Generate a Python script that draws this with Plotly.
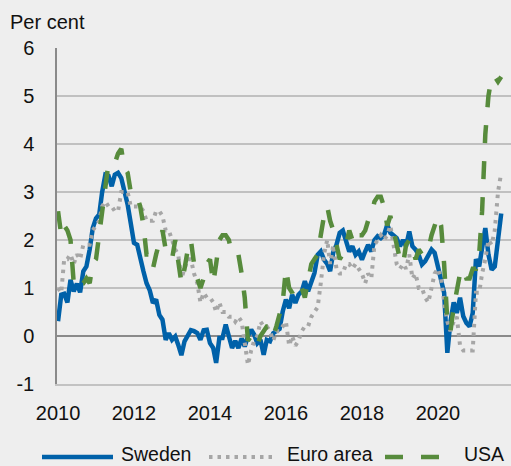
import pandas as pd
import plotly.graph_objects as go

# Monthly data, Jan 2010 - Sep 2021 (annual percentage change)
months = pd.date_range("2010-01-01", "2021-09-01", freq="MS")

sweden = [
    0.31, 0.86, 0.88, 0.70, 1.17, 0.93, 1.09, 0.91, 1.35, 1.45, 1.80, 2.25,
    2.45, 2.53, 3.00, 3.36, 3.34, 3.12, 3.36, 3.40, 3.29, 3.05, 2.74, 2.35,
    1.94, 1.90, 1.59, 1.35, 1.10, 0.95, 0.69, 0.76, 0.44, 0.34, -0.08, 0.06,
    -0.08, -0.01, -0.18, -0.40, -0.11, -0.01, 0.12, 0.10, 0.06, -0.08, 0.12, 0.13,
    -0.15, -0.25, -0.56, -0.04, -0.04, 0.24, -0.01, -0.25, -0.10, -0.25, -0.05, -0.22,
    0.00, 0.13, 0.03, -0.15, -0.08, -0.39, -0.08, -0.11, 0.06, 0.10, 0.15, 0.51,
    0.76, 0.58, 0.86, 0.69, 0.86, 0.93, 1.14, 0.93, 1.14, 1.31, 1.69, 1.76,
    1.59, 1.50, 1.35, 1.75, 1.90, 2.15, 2.20, 2.00, 1.76, 1.87, 1.69, 1.76,
    1.59, 1.76, 1.90, 1.76, 2.00, 2.08, 2.04, 2.10, 2.32, 2.15, 2.08, 2.04,
    1.87, 2.00, 1.87, 2.18, 1.87, 1.80, 1.69, 1.49, 1.56, 1.69, 1.80, 1.73,
    1.45, 1.24, 0.90, -0.35, 0.30, 0.70, 0.48, 0.80, 0.41, 0.27, 0.20, 0.48,
    1.60, 1.45, 1.85, 2.25, 1.70, 1.38, 1.45, 2.05, 2.55,
]

euro_area = [
    1.0, 0.9, 1.6, 1.6, 1.7, 1.5, 1.7, 1.6, 1.9, 1.9, 1.9, 2.2,
    2.3, 2.4, 2.7, 2.8, 2.7, 2.7, 2.6, 2.6, 3.0, 3.0, 3.0, 2.7,
    2.7, 2.7, 2.7, 2.6, 2.4, 2.4, 2.4, 2.6, 2.6, 2.5, 2.2, 2.2,
    2.0, 1.8, 1.7, 1.2, 1.4, 1.6, 1.6, 1.3, 1.1, 0.7, 0.9, 0.8,
    0.8, 0.7, 0.5, 0.7, 0.5, 0.5, 0.4, 0.4, 0.3, 0.4, 0.3, -0.2,
    -0.6, -0.3, -0.1, 0.0, 0.3, 0.2, 0.2, 0.1, -0.1, 0.1, 0.1, 0.2,
    0.3, -0.2, 0.0, -0.2, -0.1, 0.1, 0.2, 0.2, 0.4, 0.5, 0.6, 1.1,
    1.7, 2.0, 1.5, 1.9, 1.4, 1.3, 1.3, 1.5, 1.5, 1.4, 1.5, 1.4,
    1.3, 1.1, 1.3, 1.2, 1.9, 2.0, 2.1, 2.0, 2.1, 2.3, 1.9, 1.5,
    1.4, 1.5, 1.4, 1.7, 1.2, 1.3, 1.0, 1.0, 0.8, 0.7, 1.0, 1.3,
    1.4, 1.2, 0.7, 0.3, 0.1, 0.3, 0.4, -0.2, -0.3, -0.3, -0.3, -0.3,
    0.9, 0.9, 1.3, 1.6, 2.0, 1.9, 2.2, 3.0, 3.4,
]

usa = [
    2.6, 2.1, 2.3, 2.2, 2.0, 1.1, 1.2, 1.1, 1.1, 1.2, 1.1, 1.5,
    1.6, 2.1, 2.7, 3.2, 3.6, 3.6, 3.6, 3.8, 3.9, 3.5, 3.4, 3.0,
    2.9, 2.9, 2.7, 2.3, 1.7, 1.7, 1.4, 1.7, 2.0, 2.2, 1.8, 1.7,
    1.6, 2.0, 1.5, 1.1, 1.4, 1.8, 2.0, 1.5, 1.2, 1.0, 1.2, 1.5,
    1.6, 1.1, 1.5, 2.0, 2.1, 2.1, 2.0, 1.7, 1.7, 1.7, 1.3, 0.8,
    -0.1, 0.0, -0.1, -0.2, 0.0, 0.1, 0.2, 0.2, 0.0, 0.2, 0.5, 0.7,
    1.4, 1.0, 0.9, 1.1, 1.0, 1.0, 0.8, 1.1, 1.5, 1.6, 1.7, 2.1,
    2.5, 2.7, 2.4, 2.2, 1.9, 1.6, 1.7, 1.9, 2.2, 2.0, 2.2, 2.1,
    2.1, 2.2, 2.4, 2.5, 2.8, 2.9, 2.9, 2.7, 2.3, 2.5, 2.2, 1.9,
    1.6, 1.5, 1.9, 2.0, 1.8, 1.6, 1.8, 1.7, 1.7, 1.8, 2.1, 2.3,
    2.5, 2.3, 1.5, 0.3, 0.1, 0.6, 1.0, 1.3, 1.4, 1.2, 1.2, 1.4,
    1.4, 1.7, 2.6, 4.2, 5.0, 5.4, 5.4, 5.3, 5.4,
]

series_names = ["Sweden", "Euro area", "USA"]
y_ticks = [-1, 0, 1, 2, 3, 4, 5, 6]
y_tick_labels = ["-1", "0", "1", "2", "3", "4", "5", "6"]

BLUE = "#0061a9"
GREY = "#a6a6a6"
GREEN = "#578b3c"
BG = "#eeeeee"
FONT = "Liberation Sans, Arial, sans-serif"

W, H = 511, 466
ML, MR, MT, MB = 57, 0, 48, 82
PW, PH = W - ML - MR, H - MT - MB

styles = {
    "Sweden": dict(color=BLUE, width=4.5, dash="solid"),
    "Euro area": dict(color=GREY, width=4.0, dash="3.5px,5px"),
    "USA": dict(color=GREEN, width=4.5, dash="18px,18px"),
}

fig = go.Figure()
for name, vals in zip(series_names, [sweden, euro_area, usa]):
    fig.add_trace(go.Scatter(x=months, y=vals, mode="lines", name=name,
                             line=styles[name], showlegend=False))


def px_x(p):
    return (p - ML) / PW


def px_y(p):
    return (H - MB - p) / PH


# custom legend (long line samples like the original)
leg_line_y = 457
leg_text_y = 454
legend_items = [
    ("Sweden", 42, 113, 119),
    ("Euro area", 209, 277, 285),
    ("USA", 385, 443, 462),
]
shapes = []
annotations = []
for name, x0, x1, tx in legend_items:
    st = styles[name]
    shapes.append(dict(type="line", xref="paper", yref="paper",
                       x0=px_x(x0), x1=px_x(x1), y0=px_y(leg_line_y), y1=px_y(leg_line_y),
                       line=dict(color=st["color"], width=st["width"], dash=st["dash"])))
    annotations.append(dict(text=name, xref="paper", yref="paper",
                            x=px_x(tx), y=px_y(leg_text_y), xanchor="left", yanchor="middle",
                            showarrow=False, font=dict(size=19.5, color="#111111", family=FONT)))

annotations.append(dict(text="Per cent", xref="paper", yref="paper",
                        x=px_x(8), y=px_y(22), xanchor="left", yanchor="middle",
                        showarrow=False, font=dict(size=20, color="#111111", family=FONT)))

fig.update_layout(
    width=W, height=H,
    margin=dict(l=ML, r=MR, t=MT, b=MB, autoexpand=False),
    paper_bgcolor=BG, plot_bgcolor=BG,
    font=dict(family=FONT, size=20, color="#111111"),
    shapes=shapes, annotations=annotations,
    showlegend=False,
)
fig.update_xaxes(
    type="date", range=["2009-12-22", "2021-12-04"],
    tick0="2010-01-01", dtick="M24", tickformat="%Y",
    showgrid=False, zeroline=False, ticks="",
    showline=True, linecolor="#c2c2c2", linewidth=1.5,
    tickfont=dict(size=20), ticklabelstandoff=10, automargin=False,
)
fig.update_yaxes(
    range=[-1, 6], tickvals=y_ticks, ticktext=y_tick_labels,
    ticks="outside", ticklen=17, tickcolor="rgba(0,0,0,0)",
    showgrid=True, gridcolor="#c0c0c0", gridwidth=1.5,
    zeroline=True, zerolinecolor="#8a8a8a", zerolinewidth=1.5,
    showline=True, linecolor="#8a8a8a", linewidth=1.5,
    tickfont=dict(size=20), automargin=False,
)

fig.write_html(
    "out.html",
    config={"displayModeBar": False},
    post_script="document.body.style.margin='0';document.body.style.background='#eeeeee';",
)
